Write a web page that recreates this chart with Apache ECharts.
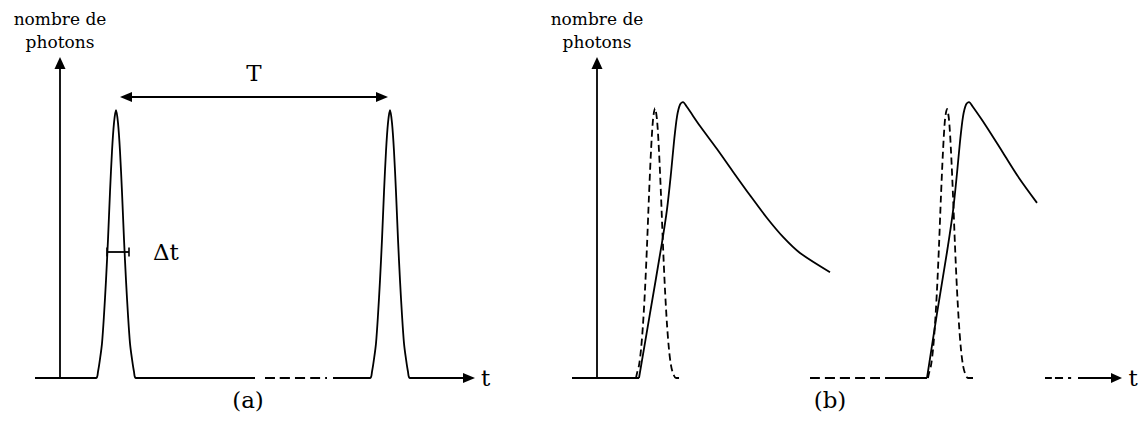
<!DOCTYPE html>
<html>
<head>
<meta charset="utf-8">
<title>nombre de photons</title>
<script src="https://cdn.jsdelivr.net/npm/echarts@6/dist/echarts.min.js"></script>
<style>
  html, body { margin: 0; padding: 0; background: #fff; }
  #chart { width: 1144px; height: 428px; }
</style>
</head>
<body>
<div id="chart"></div>
<script>
// texts
const yName = 'nombre de\nphotons'
const xName = 't'
const panelLabels = ['(a)', '(b)']
const periodLabel = 'T'
const widthLabel = 'Δt'

// (a) excitation pulses : [time, photons]
const pulseA1 = [[-2.5, 0], [3.6, 0], [3.8, 0.02], [4.0, 0.06], [4.2, 0.11], [4.4, 0.2], [4.6, 0.31], [4.8, 0.44],
  [5.0, 0.59], [5.2, 0.72], [5.4, 0.81], [5.6, 0.85], [5.8, 0.81], [6.0, 0.72], [6.2, 0.59], [6.4, 0.44],
  [6.6, 0.31], [6.8, 0.2], [7.0, 0.11], [7.2, 0.06], [7.4, 0.02], [7.6, 0], [19.5, 0]]
const gapA = [[20.5, 0], [26.7, 0]]
const pulseA2 = [[27.3, 0], [31.0, 0], [31.2, 0.02], [31.4, 0.06], [31.6, 0.11], [31.8, 0.2], [32.0, 0.31], [32.2, 0.44],
  [32.4, 0.59], [32.6, 0.72], [32.8, 0.81], [33.0, 0.85], [33.2, 0.81], [33.4, 0.72], [33.6, 0.59], [33.8, 0.44],
  [34.0, 0.31], [34.2, 0.2], [34.4, 0.11], [34.6, 0.06], [34.8, 0.02], [35.0, 0], [40.9, 0]]
// period T and width Δt markers
const periodA = [[6.6, 0.892], [32.2, 0.892]]
const widthA = [[4.7, 0.4], [6.9, 0.4]]
const arrowA = [[39.5, 0], [40.9, 0]]

// (b) excitation (dashed) and emission (solid)
const baseB = [[-2.5, 0], [4.2, 0]]
const excitationB1 = [[3.9, 0], [4.0, 0.015], [4.2, 0.04], [4.4, 0.09], [4.6, 0.17], [4.8, 0.28], [5.0, 0.42], [5.2, 0.58],
  [5.4, 0.72], [5.6, 0.82], [5.8, 0.857], [6.0, 0.82], [6.2, 0.72], [6.4, 0.58], [6.6, 0.42], [6.8, 0.28],
  [7.0, 0.17], [7.2, 0.09], [7.4, 0.04], [7.6, 0.015], [7.9, 0], [8.5, 0]]
const emissionB1 = [[4.2, 0], [5.3, 0.205], [6.5, 0.43], [7.0, 0.535], [7.4, 0.65], [7.7, 0.75], [8.0, 0.83],
  [8.3, 0.868], [8.6, 0.876], [9.0, 0.86], [10.3, 0.8], [12.0, 0.727], [13.6, 0.655], [15.3, 0.58],
  [17.0, 0.508], [18.6, 0.448], [20.3, 0.397], [23.3, 0.336]]
const gapB = [[21.3, 0], [29.6, 0]]
const baseB2 = [[29.6, 0], [33.0, 0]]
const excitationB2 = [[33.1, 0], [33.2, 0.015], [33.4, 0.04], [33.6, 0.09], [33.8, 0.17], [34.0, 0.28], [34.2, 0.42], [34.4, 0.58],
  [34.6, 0.72], [34.8, 0.82], [35.0, 0.854], [35.2, 0.82], [35.4, 0.72], [35.6, 0.58], [35.8, 0.42], [36.0, 0.28],
  [36.2, 0.17], [36.4, 0.09], [36.6, 0.04], [36.8, 0.015], [37.1, 0], [37.6, 0]]
const emissionB2 = [[33.0, 0], [34.0, 0.205], [35.0, 0.4], [35.6, 0.53], [36.0, 0.65], [36.3, 0.75], [36.6, 0.83],
  [36.9, 0.868], [37.2, 0.876], [37.6, 0.86], [38.9, 0.8], [40.6, 0.715], [42.2, 0.635], [44.0, 0.556]]
const tailB = [[44.8, 0], [48.1, 0]]
const arrowB = [[48.1, 0], [51.95, 0]]

const FONT = "'DejaVu Serif', serif"
const INK = '#000'
const LW = 1.8
const BIG = 23

const chart = echarts.init(document.getElementById('chart'), null, { renderer: 'svg' })

function curve(xi, data, dashed, extra) {
  return Object.assign({
    type: 'line',
    xAxisIndex: xi,
    yAxisIndex: xi,
    data: data,
    symbol: 'none',
    smooth: 0.3,
    silent: true,
    lineStyle: { color: INK, width: LW, type: dashed || 'solid' },
    emphasis: { disabled: true }
  }, extra || {})
}

function marker(pts, symbols, size, label) {
  return {
    silent: true,
    animation: false,
    symbol: symbols,
    symbolSize: size,
    lineStyle: { color: INK, width: LW, type: 'solid' },
    itemStyle: { color: INK },
    label: label || { show: false },
    emphasis: { disabled: true },
    data: [[{ coord: pts[0] }, { coord: pts[1] }]]
  }
}

const endLabel = { show: true, position: 'end', formatter: xName, distance: 12, fontFamily: FONT, fontSize: BIG, color: INK }

function yAxisFor(i) {
  return {
    gridIndex: i,
    type: 'value',
    min: 0,
    max: 1,
    axisLine: { show: true, onZero: true, symbol: ['none', 'triangle'], symbolSize: [11, 12], lineStyle: { color: INK, width: LW } },
    axisTick: { show: false },
    axisLabel: { show: false },
    splitLine: { show: false },
    name: yName,
    nameLocation: 'end',
    nameGap: 10,
    nameTextStyle: { fontFamily: FONT, fontSize: 17, lineHeight: 23, color: INK, align: 'center' }
  }
}

function xAxisFor(i, max) {
  return {
    gridIndex: i,
    type: 'value',
    min: -2.5,
    max: max,
    axisLine: { show: false },
    axisTick: { show: false },
    axisLabel: { show: false },
    splitLine: { show: false }
  }
}

const option = {
  animation: false,
  backgroundColor: '#fff',
  grid: [
    { left: 35, top: 63, width: 440, height: 315 },
    { left: 572, top: 63, width: 548, height: 315 }
  ],
  xAxis: [xAxisFor(0, 41.5), xAxisFor(1, 52.3)],
  yAxis: [yAxisFor(0), yAxisFor(1)],
  series: [
    curve(0, pulseA1, 'solid', {
      markLine: marker(widthA, ['rect', 'rect'], [9, 1.6], {
        show: true, position: 'end', formatter: widthLabel, distance: 24, fontFamily: FONT, fontSize: BIG, color: INK
      })
    }),
    curve(0, gapA, [10, 5]),
    curve(0, pulseA2, 'solid', {
      markLine: {
        silent: true,
        symbol: ['triangle', 'triangle'],
        symbolSize: [10, 12],
        lineStyle: { color: INK, width: LW, type: 'solid' },
        itemStyle: { color: INK },
        emphasis: { disabled: true },
        data: [
          [{ coord: periodA[0], label: { show: true, position: 'insideMiddleTop', formatter: periodLabel, distance: 13, fontFamily: FONT, fontSize: BIG, color: INK } },
           { coord: periodA[1] }],
          [{ coord: arrowA[0], symbol: 'none', label: endLabel }, { coord: arrowA[1] }]
        ]
      }
    }),
    curve(1, baseB, 'solid', { smooth: false }),
    curve(1, emissionB1, 'solid'),
    curve(1, excitationB1, [7, 4]),
    curve(1, gapB, [10, 5]),
    curve(1, baseB2, 'solid', { smooth: false }),
    curve(1, emissionB2, 'solid'),
    curve(1, excitationB2, [7, 4]),
    curve(1, tailB, [7, 3, 8, 5, 3, 7], {
      markLine: marker(arrowB, ['none', 'triangle'], [10, 11], endLabel)
    })
  ],
  graphic: [
    { type: 'text', x: 248, y: 400, silent: true,
      style: { text: panelLabels[0], font: BIG + 'px ' + FONT, fill: INK, textAlign: 'center', textVerticalAlign: 'middle' } },
    { type: 'text', x: 830, y: 400, silent: true,
      style: { text: panelLabels[1], font: BIG + 'px ' + FONT, fill: INK, textAlign: 'center', textVerticalAlign: 'middle' } }
  ]
}

chart.setOption(option)
</script>
</body>
</html>
